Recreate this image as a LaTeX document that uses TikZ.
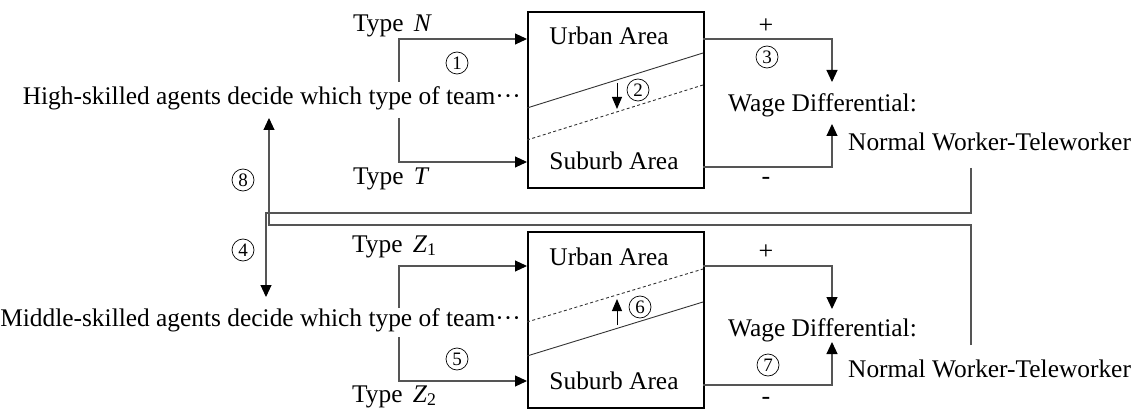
\documentclass[tikz,border=0pt]{standalone}
\usepackage{fontspec}
\setmainfont{Liberation Serif}
\usetikzlibrary{arrows.meta}
\definecolor{linegray}{HTML}{555555}
\begin{document}
\begin{tikzpicture}[x=1pt,y=-1pt,
  conn/.style={draw=linegray, line width=1.1pt},
  arr/.style={conn, -{Triangle[length=12pt,width=11pt,color=black]}},
  smallarr/.style={draw=black, line width=1pt, -{Triangle[length=12pt,width=10pt]}},
  areabox/.style={draw=black, line width=2.2pt, inner sep=0pt, minimum width=176pt, minimum height=176pt, anchor=north west},
  lbl/.style={inner sep=0pt, font=\fontsize{25.4}{30}\selectfont},
  num/.style={circle, draw=black, line width=0.7pt, inner sep=0pt, minimum size=22pt, font=\fontsize{19}{19}\selectfont},
  sign/.style={inner sep=0pt, font=\fontsize{26}{26}\selectfont},
  border/.style={line width=0.9pt, draw=black!80},
  shifted/.style={border, dash pattern=on 3pt off 2.5pt},
]
\useasboundingbox (0,0) rectangle (1138,409);

% ---------- upper panel: high-skilled agents ----------
\node[lbl, anchor=base east] (high) at (521,105) {High-skilled agents decide which type of team\textperiodcentered\textperiodcentered\textperiodcentered};
\node[lbl, anchor=base west] (typeN) at (353,32) {Type\hspace{0.4em}\textit{N}};
\node[lbl, anchor=base west] (typeT) at (353,185) {Type\hspace{0.4em}\textit{T}};
\node[num] (n1) at (457,63) {1};

\node[areabox] (topbox) at (527,11) {};
\node[lbl, anchor=base] (urbanA) at (609,45) {Urban Area};
\node[lbl, anchor=base] (suburbA) at (614,169) {Suburb Area};
\draw[border] (527,108) -- (703,53);
\draw[shifted] (527,140) -- (703,85);
\coordinate (d2s) at (617,83);
\coordinate (d2e) at (617,109);
\draw[smallarr] (d2s) -- (d2e);
\node[num] (n2) at (638,90) {2};

\coordinate (hsplitN) at (399,82);
\coordinate (hsplitT) at (399,118);
\coordinate (inU1) at (527,39);
\coordinate (inS1) at (527,162);
\draw[arr] (hsplitN) |- (inU1);
\draw[arr] (hsplitT) |- (inS1);

\node[lbl, anchor=base west] (wage1) at (728,112) {Wage Differential:};
\node[lbl, anchor=base west] (nw1) at (848,150) {Normal Worker-Teleworker};
\coordinate (outU1) at (703,39);
\coordinate (outS1) at (703,167);
\coordinate (wTop1) at (832,82);
\coordinate (wBot1) at (832,124);
\draw[arr] (outU1) -| (wTop1);
\draw[arr] (outS1) -| (wBot1);
\node[sign] (plus1) at (766,26) {+};
\node[sign] (minus1) at (766,181) {-};
\node[num] (n3) at (767,57) {3};

% ---------- lower panel: middle-skilled agents ----------
\node[lbl, anchor=base east] (middle) at (521,326) {Middle-skilled agents decide which type of team\textperiodcentered\textperiodcentered\textperiodcentered};
\node[lbl, anchor=base west] (typeZ1) at (352,252) {Type\hspace{0.4em}\textit{Z}\textsubscript{1}};
\node[lbl, anchor=base west] (typeZ2) at (352,402) {Type\hspace{0.4em}\textit{Z}\textsubscript{2}};
\node[num] (n5) at (457,359) {5};

\node[areabox] (botbox) at (527,231) {};
\node[lbl, anchor=base] (urbanB) at (609,265) {Urban Area};
\node[lbl, anchor=base] (suburbB) at (614,389) {Suburb Area};
\draw[shifted] (527,322) -- (703,269);
\draw[border] (527,356) -- (703,302);
\coordinate (u6s) at (617,325);
\coordinate (u6e) at (617,299);
\draw[smallarr] (u6s) -- (u6e);
\node[num] (n6) at (640,307) {6};

\coordinate (msplitU) at (399,308);
\coordinate (msplitS) at (399,337);
\coordinate (inU2) at (527,266);
\coordinate (inS2) at (527,381);
\draw[arr] (msplitU) |- (inU2);
\draw[arr] (msplitS) |- (inS2);

\node[lbl, anchor=base west] (wage2) at (728,336) {Wage Differential:};
\node[lbl, anchor=base west] (nw2) at (848,377) {Normal Worker-Teleworker};
\coordinate (outU2) at (703,266);
\coordinate (outS2) at (703,385);
\coordinate (wTop2) at (832,309);
\coordinate (wBot2) at (832,342);
\draw[arr] (outU2) -| (wTop2);
\draw[arr] (outS2) -| (wBot2);
\node[sign] (plus2) at (766,252) {+};
\node[sign] (minus2) at (766,401) {-};
\node[num] (n7) at (768,365) {7};

% ---------- feedback between the panels ----------
\coordinate (fbTopStart) at (971,168);
\coordinate (fbTopTurn) at (971,213);
\coordinate (fbTopEnd) at (266,297);
\draw[arr] (fbTopStart) -- (fbTopTurn) -| (fbTopEnd);
\node[num] (n4) at (243,250) {4};

\coordinate (fbBotStart) at (971,345);
\coordinate (fbBotTurn) at (971,225);
\coordinate (fbBotEnd) at (269,118);
\draw[arr] (fbBotStart) -- (fbBotTurn) -| (fbBotEnd);
\node[num] (n8) at (243,180) {8};
\end{tikzpicture}
\end{document}
